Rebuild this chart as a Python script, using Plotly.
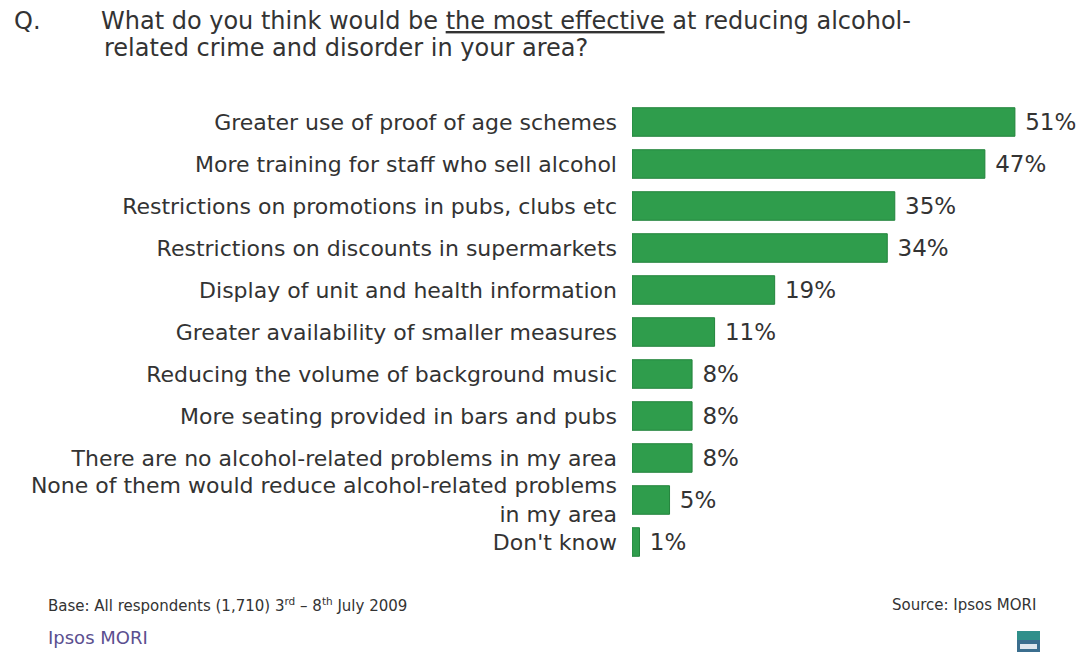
import plotly.graph_objects as go

# Survey responses, listed top to bottom
categories = [
    "Greater use of proof of age schemes",
    "More training for staff who sell alcohol",
    "Restrictions on promotions in pubs, clubs etc",
    "Restrictions on discounts in supermarkets",
    "Display of unit and health information",
    "Greater availability of smaller measures",
    "Reducing the volume of background music",
    "More seating provided in bars and pubs",
    "There are no alcohol-related problems in my area",
    "None of them would reduce alcohol-related problems<br>in my area",
    "Don't know",
]
values = [51, 47, 35, 34, 19, 11, 8, 8, 8, 5, 1]
value_labels = [f" {v}%" for v in values]

FONT = "DejaVu Sans, Arial, sans-serif"
GREEN = "#2f9d4c"
TEXT = "#333333"

# plot area in pixels
L, T, W, H = 632, 101, 458, 462


def px(x):
    return (x - L) / W


def py(y):
    return 1 - (y - T) / H


fig = go.Figure(
    go.Bar(
        x=values,
        y=categories,
        orientation="h",
        width=0.68,
        marker=dict(color=GREEN, line=dict(color="#23843c", width=1)),
        text=value_labels,
        textposition="outside",
        textfont=dict(family=FONT, size=23, color=TEXT),
        cliponaxis=False,
        hoverinfo="skip",
    )
)

fig.update_layout(
    width=1090,
    height=659,
    margin=dict(l=L, r=1090 - L - W, t=T, b=659 - T - H),
    paper_bgcolor="white",
    plot_bgcolor="white",
    showlegend=False,
    font=dict(family=FONT, color=TEXT),
)
fig.update_xaxes(range=[0, 61], visible=False)
fig.update_yaxes(
    autorange="reversed",
    tickfont=dict(family=FONT, size=22, color=TEXT),
    ticklabelstandoff=14,
    showgrid=False,
    showline=False,
    ticks="",
)

# Question heading
title_font = dict(family=FONT, size=24, color=TEXT)
fig.add_annotation(
    xref="paper", yref="paper", x=px(12), y=py(21),
    xanchor="left", yanchor="middle", showarrow=False,
    text="Q.", font=title_font,
)
fig.add_annotation(
    xref="paper", yref="paper", x=px(100), y=py(21),
    xanchor="left", yanchor="middle", showarrow=False, borderpad=0,
    text="What do you think would be <u>the most effective</u> at reducing alcohol-",
    font=title_font,
)
fig.add_annotation(
    xref="paper", yref="paper", x=px(103), y=py(48),
    xanchor="left", yanchor="middle", showarrow=False, borderpad=0,
    text="related crime and disorder in your area?",
    font=title_font,
)

# Footer notes
foot_font = dict(family=FONT, size=15, color=TEXT)
fig.add_annotation(
    xref="paper", yref="paper", x=px(46), y=py(605),
    xanchor="left", yanchor="middle", showarrow=False,
    text="Base: All respondents (1,710) 3<sup>rd</sup> \u2013 8<sup>th</sup> July 2009",
    font=foot_font,
)
fig.add_annotation(
    xref="paper", yref="paper", x=px(1038), y=py(605),
    xanchor="right", yanchor="middle", showarrow=False,
    text="Source: Ipsos MORI",
    font=foot_font,
)
fig.add_annotation(
    xref="paper", yref="paper", x=px(46), y=py(637),
    xanchor="left", yanchor="middle", showarrow=False,
    text="Ipsos MORI",
    font=dict(family=FONT, size=18, color="#5b4f8f"),
)

# Small logo tile
fig.add_shape(
    type="rect", xref="paper", yref="paper",
    x0=px(1017), x1=px(1040), y0=py(652), y1=py(631),
    fillcolor="#3b6e8e", line=dict(width=0),
)
fig.add_shape(
    type="rect", xref="paper", yref="paper",
    x0=px(1017), x1=px(1040), y0=py(640), y1=py(631),
    fillcolor="#2f8f8a", line=dict(width=0),
)
fig.add_shape(
    type="rect", xref="paper", yref="paper",
    x0=px(1020), x1=px(1037), y0=py(649), y1=py(644),
    fillcolor="#dfe7ee", line=dict(width=0),
)

fig.write_html("out.html")
